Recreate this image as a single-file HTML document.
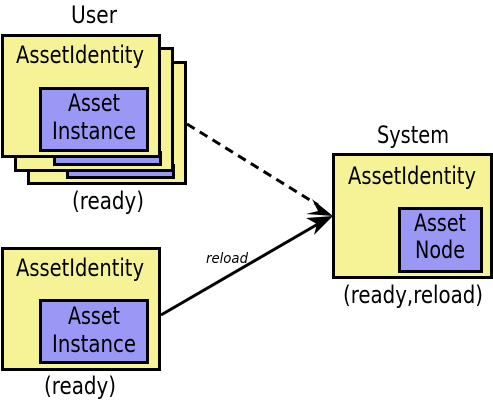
<!DOCTYPE html>
<html><head><style>body{margin:0;background:#fff}svg{display:block}text{font-family:"DejaVu Sans","Liberation Sans",sans-serif;fill:#000}</style></head>
<body>
<svg width="493" height="400" viewBox="0 0 493 400" xmlns="http://www.w3.org/2000/svg">
<g stroke="#000" stroke-width="3">
<rect x="28.5" y="62.5" width="157" height="121" fill="#f6f397"/>
<rect x="67.5" y="165.5" width="106" height="12" fill="#9b97f5"/>
<rect x="15.5" y="48.5" width="157" height="122" fill="#f6f397"/>
<rect x="54.5" y="152.5" width="106" height="12" fill="#9b97f5"/>
<rect x="2.5" y="35.5" width="157" height="121" fill="#f6f397"/>
<rect x="40.5" y="88.5" width="107" height="62" fill="#9b97f5"/>
<rect x="2.5" y="248.5" width="157" height="121" fill="#f6f397"/>
<rect x="40.5" y="300.5" width="107" height="62" fill="#9b97f5"/>
<rect x="333.5" y="154.5" width="158" height="123" fill="#f6f397"/>
<rect x="399.5" y="208.5" width="82" height="63" fill="#9b97f5"/>
</g>
<line x1="187" y1="124" x2="318" y2="205" stroke="#000" stroke-width="3" stroke-dasharray="9,6"/>
<line x1="161" y1="315" x2="318" y2="224" stroke="#000" stroke-width="3"/>
<polygon points="333,216 312,199 318,211 306,214" fill="#000"/>
<polygon points="333,216 306,218 317,224 314,235" fill="#000"/>
<g font-size="24" text-anchor="middle">
<text x="94" y="23" textLength="46" lengthAdjust="spacingAndGlyphs">User</text>
<text x="413" y="143" textLength="72" lengthAdjust="spacingAndGlyphs">System</text>
<text x="80" y="63" textLength="128" lengthAdjust="spacingAndGlyphs">AssetIdentity</text>
<text x="94" y="111" textLength="52" lengthAdjust="spacingAndGlyphs">Asset</text>
<text x="94" y="139" textLength="84" lengthAdjust="spacingAndGlyphs">Instance</text>
<text x="108" y="209" textLength="72" lengthAdjust="spacingAndGlyphs">(ready)</text>
<text x="80" y="276" textLength="128" lengthAdjust="spacingAndGlyphs">AssetIdentity</text>
<text x="94" y="324" textLength="52" lengthAdjust="spacingAndGlyphs">Asset</text>
<text x="94" y="352" textLength="84" lengthAdjust="spacingAndGlyphs">Instance</text>
<text x="80" y="394" textLength="72" lengthAdjust="spacingAndGlyphs">(ready)</text>
<text x="412" y="184" textLength="128" lengthAdjust="spacingAndGlyphs">AssetIdentity</text>
<text x="440" y="231" textLength="52" lengthAdjust="spacingAndGlyphs">Asset</text>
<text x="440" y="258" textLength="50" lengthAdjust="spacingAndGlyphs">Node</text>
<text x="413" y="303" textLength="140" lengthAdjust="spacingAndGlyphs">(ready,reload)</text>
</g>
<text x="206" y="263" font-size="14" font-style="italic" textLength="42" lengthAdjust="spacingAndGlyphs">reload</text>
</svg>
</body></html>
